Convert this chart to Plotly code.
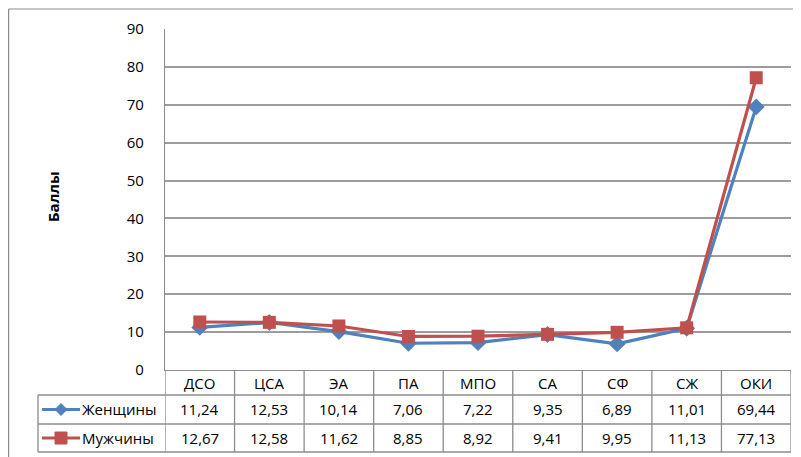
import plotly.graph_objects as go

categories = ["ДСО", "ЦСА", "ЭА", "ПА", "МПО", "СА", "СФ", "СЖ", "ОКИ"]
women = [11.24, 12.53, 10.14, 7.06, 7.22, 9.35, 6.89, 11.01, 69.44]
men = [12.67, 12.58, 11.62, 8.85, 8.92, 9.41, 9.95, 11.13, 77.13]
series_names = ["Женщины", "Мужчины"]
y_title = "Баллы"

BLUE = "#4F81BD"
RED = "#C0504D"
GRID = "#9C9C9C"
BORDER = "#8C8C8C"
FONT = "Open Sans"

# page body has an 8px margin; figure is placed at (8, 8)
OX, OY = 8, 8
W, H = 801 - OX, 457 - OY
L = 165 - OX
T = 29 - OY
R = W - (791 - OX)
B = H - (370 - OY)
pw, ph = W - L - R, H - T - B

def px_x(px):
    return (px - OX - L) / pw

def px_y(py):
    return (H - B - (py - OY)) / ph

idx = list(range(len(categories)))
fig = go.Figure()
fig.add_trace(go.Scatter(x=idx, y=women, mode="lines+markers", name=series_names[0],
                         line=dict(color=BLUE, width=3.2),
                         marker=dict(symbol="diamond", size=13, color=BLUE)))
fig.add_trace(go.Scatter(x=idx, y=men, mode="lines+markers", name=series_names[1],
                         line=dict(color=RED, width=3.2),
                         marker=dict(symbol="square", size=13, color=RED)))

shapes = []
anns = []
y_head = px_y(395)
y_r1 = px_y(424)
y_r2 = px_y(452)
x_left = px_x(38)
for yy in (y_head, y_r1, y_r2):
    shapes.append(dict(type="line", xref="paper", yref="paper", x0=x_left, x1=1, y0=yy, y1=yy,
                       line=dict(color=BORDER, width=1.3)))
shapes.append(dict(type="line", xref="paper", yref="paper", x0=x_left, x1=x_left, y0=y_head, y1=y_r2,
                   line=dict(color=BORDER, width=1.3)))
for k in range(len(categories) + 1):
    xk = k - 0.5
    shapes.append(dict(type="line", xref="x", yref="paper", x0=xk, x1=xk, y0=0, y1=y_r2,
                       line=dict(color=BORDER, width=1.3)))
# outer chart border (left and top)
shapes.append(dict(type="line", xref="paper", yref="paper", x0=px_x(8.6), x1=px_x(810), y0=px_y(9), y1=px_y(9),
                   line=dict(color=BORDER, width=1.2)))
shapes.append(dict(type="line", xref="paper", yref="paper", x0=px_x(8.6), x1=px_x(8.6), y0=px_y(9), y1=px_y(470),
                   line=dict(color=BORDER, width=1.2)))

TF = dict(family=FONT, size=15, color="#000")
for i, c in enumerate(categories):
    anns.append(dict(x=i, y=(0 + y_head) / 2, xref="x", yref="paper", text=c, showarrow=False,
                     font=TF, yanchor="middle"))
rows = [(women, (y_head + y_r1) / 2, BLUE, "diamond"), (men, (y_r1 + y_r2) / 2, RED, "square")]
for (vals, yc, col, sym), name in zip(rows, series_names):
    for i, v in enumerate(vals):
        anns.append(dict(x=i, y=yc, xref="x", yref="paper", text=f"{v:.2f}".replace(".", ","),
                         showarrow=False, font=TF, yanchor="middle"))
    anns.append(dict(x=px_x(80), y=yc, xref="paper", yref="paper", text=name, showarrow=False,
                     xanchor="left", yanchor="middle", font=TF))
    shapes.append(dict(type="line", xref="paper", yref="paper", x0=px_x(42), x1=px_x(80), y0=yc, y1=yc,
                       line=dict(color=col, width=3.2)))
    cx = px_x(61)
    if sym == "diamond":
        dx, dy = 6 / pw, 6 / ph
        shapes.append(dict(type="path", xref="paper", yref="paper",
                           path=f"M {cx-dx},{yc} L {cx},{yc+dy} L {cx+dx},{yc} L {cx},{yc-dy} Z",
                           fillcolor=col, line=dict(color=col, width=1)))
    else:
        dx, dy = 6 / pw, 6 / ph
        shapes.append(dict(type="rect", xref="paper", yref="paper", x0=cx - dx, x1=cx + dx,
                           y0=yc - dy, y1=yc + dy, fillcolor=col, line=dict(color=col, width=1)))

anns.append(dict(x=px_x(41), y=px_y(197), xref="paper", yref="paper", text=f"<b>{y_title}</b>",
                 textangle=-90, showarrow=False, font=dict(family=FONT, size=15, color="#000")))

fig.update_layout(
    width=W, height=H, margin=dict(l=L, r=R, t=T, b=B, autoexpand=False),
    paper_bgcolor="white", plot_bgcolor="white", showlegend=False,
    shapes=shapes, annotations=anns,
    xaxis=dict(range=[-0.5, len(categories) - 0.5], showticklabels=False, showgrid=False,
               zeroline=False, showline=True, linecolor=BORDER, linewidth=1.3, fixedrange=True),
    yaxis=dict(range=[0, 90], dtick=10, showgrid=True, gridcolor=GRID, gridwidth=1.5,
               zeroline=False, showline=True, linecolor=BORDER, linewidth=1.3,
               tickfont=dict(family=FONT, size=15, color="#000"), ticks="", ticklabelstandoff=17),
)
fig.write_html("out.html")
